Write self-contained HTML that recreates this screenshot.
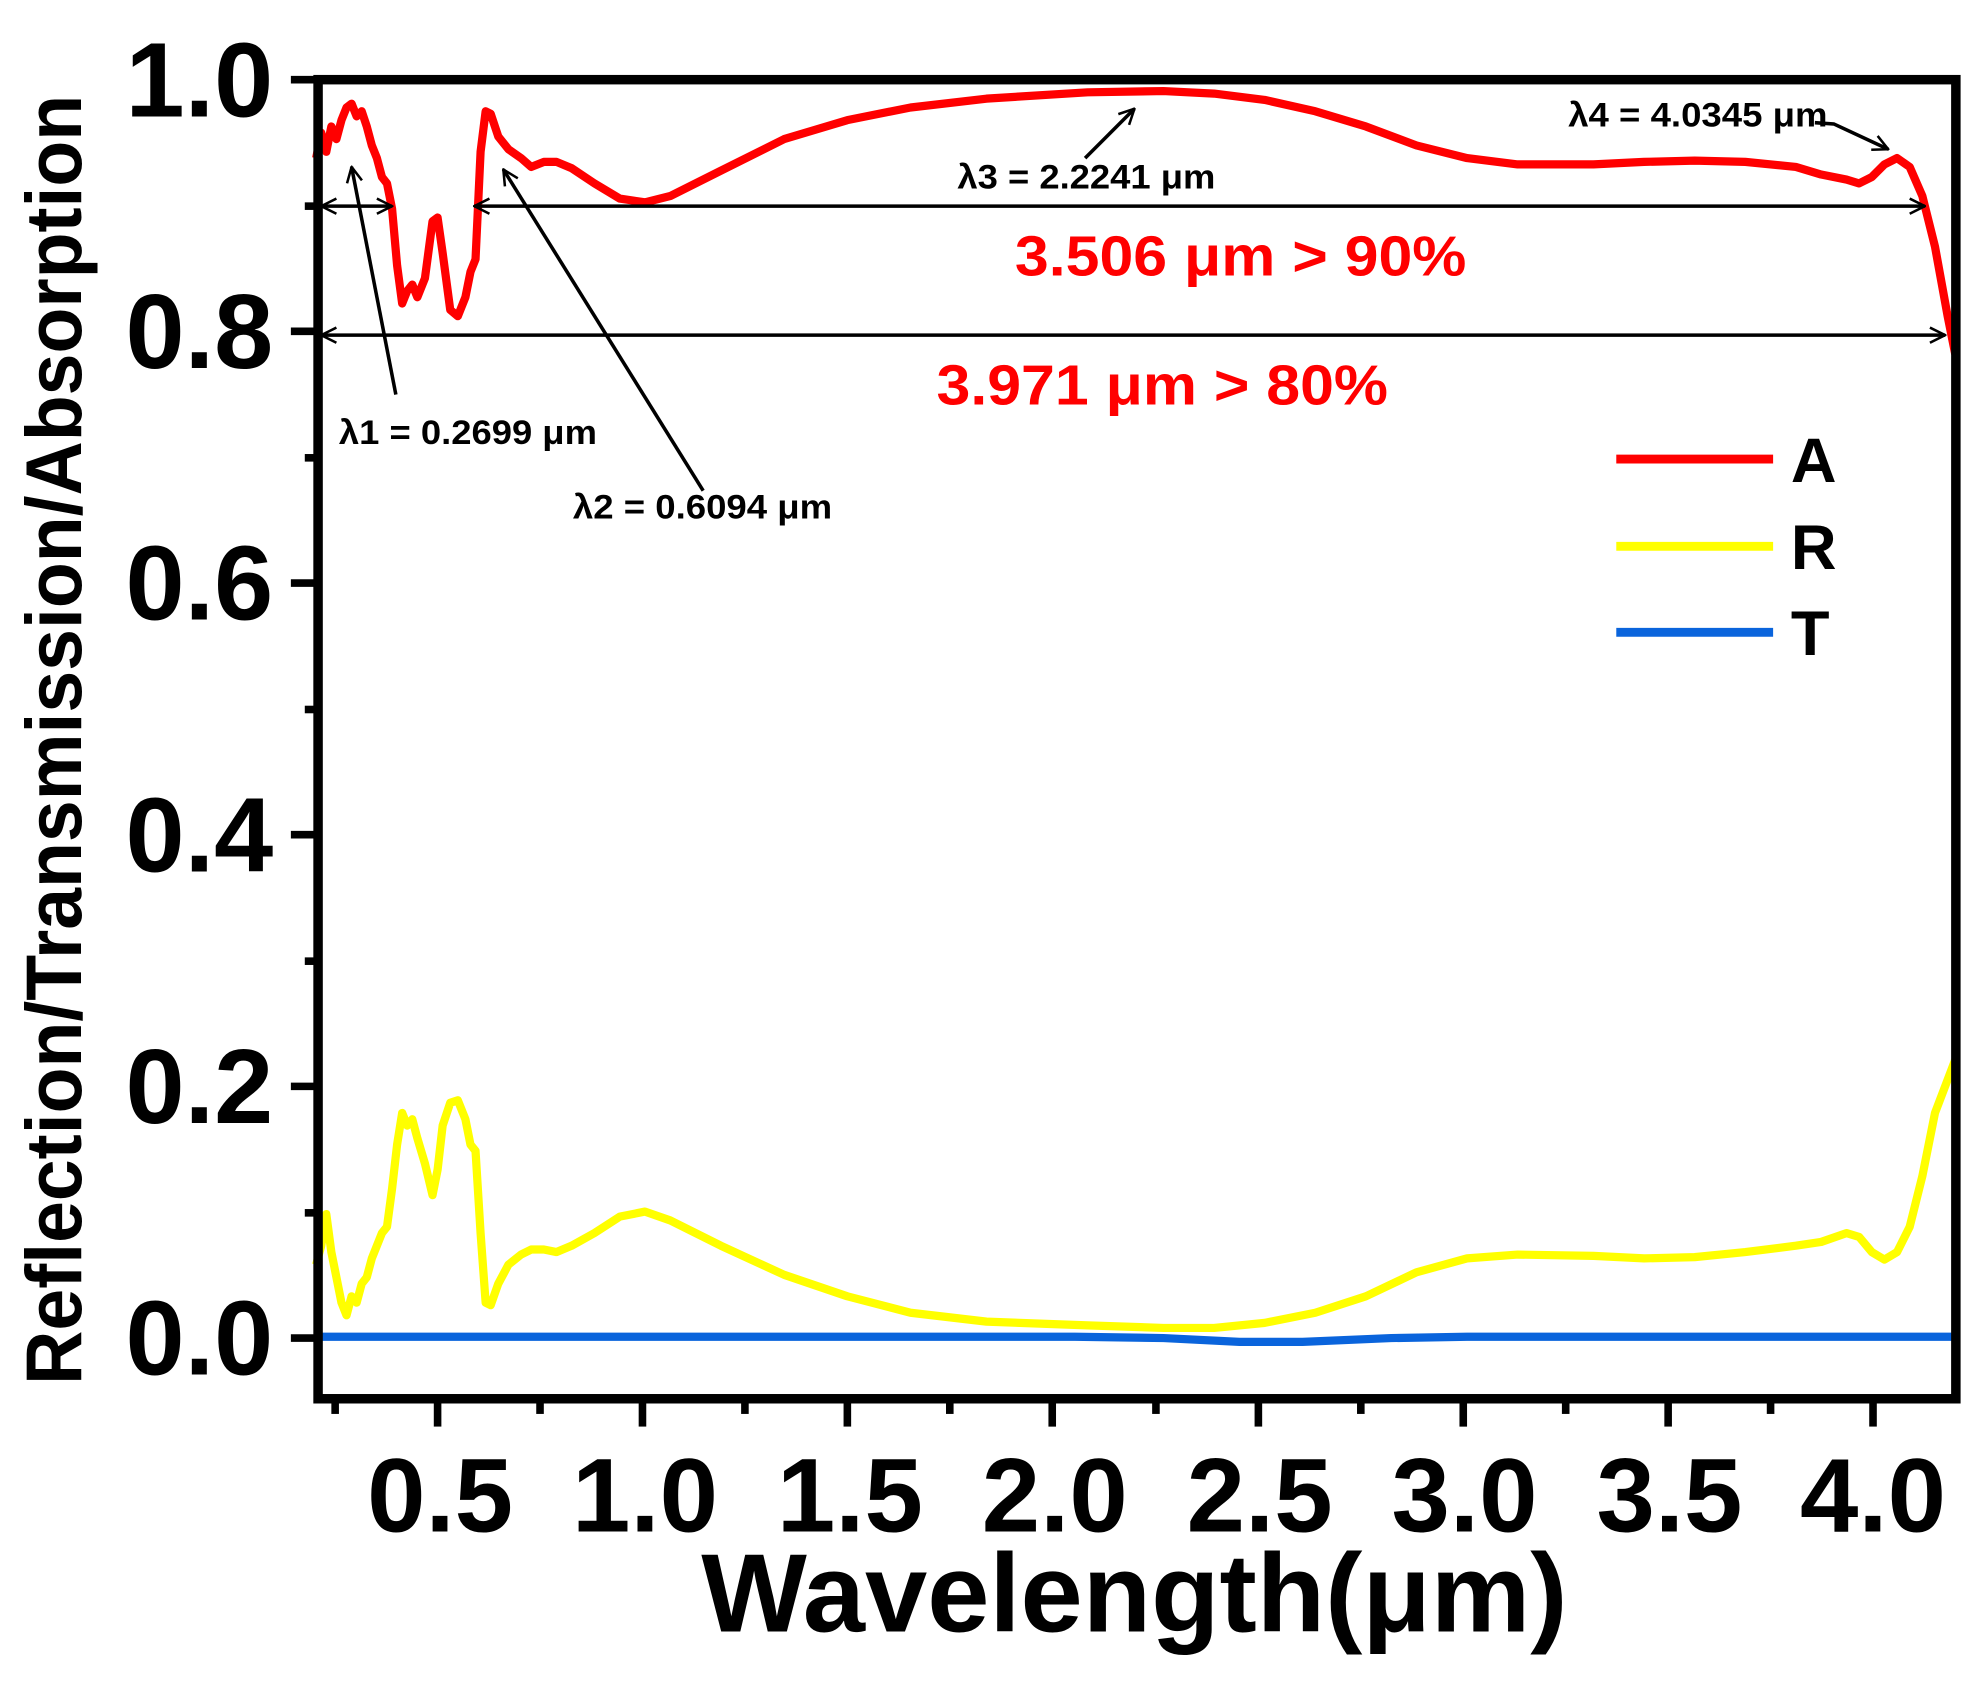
<!DOCTYPE html>
<html><head><meta charset="utf-8"><style>
html,body{margin:0;padding:0;background:#fff;}
svg{display:block;}
text{font-family:"Liberation Sans",Arial,sans-serif;font-weight:bold;}
</style></head><body>
<svg width="1983" height="1689" viewBox="0 0 1983 1689" xmlns="http://www.w3.org/2000/svg">
<rect width="1983" height="1689" fill="#fff"/>
<g transform="scale(1.2647)">
<defs>
<marker id="ah" viewBox="0 0 14 14" refX="13" refY="7" markerWidth="14" markerHeight="14" markerUnits="userSpaceOnUse" orient="auto-start-reverse">
<path d="M1,1 L13,7 L1,13" fill="none" stroke="#000" stroke-width="2"/>
</marker>
</defs>
<polyline fill="none" stroke="#ffff00" stroke-width="6.5" stroke-linejoin="round" points="250,1000 254,985 258,960 262,990 266,1010 270,1030 274,1040 278,1025 282,1030 286,1015 290,1010 294,995 298,985 302,975 306,970 310,940 314,905 318,880 322,890 326,885 330,900 336,920 342,945 346,925 350,890 356,872 362,870 368,885 372,905 376,910 380,975 384,1030 388,1032 394,1015 402,1000 412,992 420,988 430,988 440,990 452,985 470,975 490,962 510,958 530,965 570,985 620,1008 670,1025 720,1038 780,1045 860,1048 920,1050 960,1050 1000,1046 1040,1038 1080,1025 1120,1006 1160,995 1200,992 1260,993 1300,995 1340,994 1380,990 1420,985 1440,982 1460,975 1470,978 1480,990 1490,996 1500,990 1510,970 1520,930 1530,880 1546,838"/>
<polyline fill="none" stroke="#0a64dc" stroke-width="6.5" points="252,1057 850,1057 920,1058 980,1061 1030,1061 1100,1058 1160,1057 1546,1057"/>
<polyline fill="none" stroke="#ff0000" stroke-width="6.5" stroke-linejoin="round" points="250,125 254,105 258,120 262,100 266,110 270,95 274,85 278,82 282,92 286,88 290,100 294,115 298,125 302,140 306,145 310,165 314,210 318,240 322,230 326,225 330,235 336,220 342,175 346,172 350,200 356,245 362,250 368,235 372,215 376,205 380,120 384,88 388,90 394,108 402,118 412,125 420,132 430,128 440,128 452,133 470,145 490,157 510,160 530,155 570,135 620,110 670,95 720,85 780,78 860,73 920,72 960,74 1000,79 1040,88 1080,100 1120,115 1160,125 1200,130 1260,130 1300,128 1340,127 1380,128 1420,132 1440,138 1460,142 1470,145 1480,140 1490,130 1500,125 1510,132 1520,155 1530,195 1540,250 1546,280"/>
<rect x="251.5" y="63" width="1295" height="1043" fill="none" stroke="#000" stroke-width="7.5"/>
<g stroke="#000" stroke-width="6">
<line x1="230" y1="63" x2="251" y2="63"/><line x1="230" y1="262" x2="251" y2="262"/><line x1="230" y1="461" x2="251" y2="461"/>
<line x1="230" y1="660" x2="251" y2="660"/><line x1="230" y1="859" x2="251" y2="859"/><line x1="230" y1="1058" x2="251" y2="1058"/>
<line x1="241" y1="163" x2="251" y2="163"/><line x1="241" y1="362" x2="251" y2="362"/><line x1="241" y1="561" x2="251" y2="561"/>
<line x1="241" y1="760" x2="251" y2="760"/><line x1="241" y1="959" x2="251" y2="959"/>
</g>
<g stroke="#000" stroke-width="6">
<line x1="346" y1="1108" x2="346" y2="1128"/><line x1="508" y1="1108" x2="508" y2="1128"/><line x1="670" y1="1108" x2="670" y2="1128"/>
<line x1="832" y1="1108" x2="832" y2="1128"/><line x1="995" y1="1108" x2="995" y2="1128"/><line x1="1157" y1="1108" x2="1157" y2="1128"/>
<line x1="1319" y1="1108" x2="1319" y2="1128"/><line x1="1481" y1="1108" x2="1481" y2="1128"/>
<line x1="265" y1="1108" x2="265" y2="1118"/><line x1="427" y1="1108" x2="427" y2="1118"/><line x1="589" y1="1108" x2="589" y2="1118"/>
<line x1="751" y1="1108" x2="751" y2="1118"/><line x1="914" y1="1108" x2="914" y2="1118"/><line x1="1076" y1="1108" x2="1076" y2="1118"/>
<line x1="1238" y1="1108" x2="1238" y2="1118"/><line x1="1400" y1="1108" x2="1400" y2="1118"/>
</g>
<g font-size="84" text-anchor="end">
<text x="216" y="92">1.0</text><text x="216" y="291">0.8</text><text x="216" y="490">0.6</text>
<text x="216" y="689">0.4</text><text x="216" y="888">0.2</text><text x="216" y="1087">0.0</text>
</g>
<g font-size="83" text-anchor="middle">
<text x="348" y="1211">0.5</text><text x="510" y="1211">1.0</text><text x="672" y="1211">1.5</text>
<text x="834" y="1211">2.0</text><text x="996" y="1211">2.5</text><text x="1158" y="1211">3.0</text>
<text x="1320" y="1211">3.5</text><text x="1481" y="1211">4.0</text>
</g>
<text x="897" y="1290" font-size="88" text-anchor="middle" textLength="685" lengthAdjust="spacingAndGlyphs">Wavelength(μm)</text>
<text transform="translate(64,585) rotate(-90)" font-size="62" text-anchor="middle" textLength="1020" lengthAdjust="spacingAndGlyphs">Reflection/Transmission/Absorption</text>
<g stroke="#000" stroke-width="2.8" fill="none">
<line x1="254" y1="163" x2="310" y2="163" marker-start="url(#ah)" marker-end="url(#ah)"/>
<line x1="375" y1="163" x2="1522" y2="163" marker-start="url(#ah)" marker-end="url(#ah)"/>
<line x1="254" y1="265" x2="1538" y2="265" marker-start="url(#ah)" marker-end="url(#ah)"/>
<line x1="313" y1="312" x2="278" y2="132" marker-end="url(#ah)"/>
<line x1="556" y1="388" x2="398" y2="134" marker-end="url(#ah)"/>
<line x1="858" y1="125" x2="897" y2="86" marker-end="url(#ah)"/>
<polyline points="1435,97 1450,98 1493,118" marker-end="url(#ah)"/>
</g>
<g font-size="27" fill="#000">
<text x="268" y="351" textLength="204" lengthAdjust="spacingAndGlyphs">λ1 = 0.2699 μm</text>
<text x="453" y="410" textLength="205" lengthAdjust="spacingAndGlyphs">λ2 = 0.6094 μm</text>
<text x="757" y="149" textLength="204" lengthAdjust="spacingAndGlyphs">λ3 = 2.2241 μm</text>
<text x="1240" y="100" textLength="205" lengthAdjust="spacingAndGlyphs">λ4 = 4.0345 μm</text>
</g>
<g font-size="45" fill="#ff0000" text-anchor="middle">
<text x="981" y="218" textLength="357" lengthAdjust="spacingAndGlyphs">3.506 μm &gt; 90%</text>
<text x="919" y="320" textLength="357" lengthAdjust="spacingAndGlyphs">3.971 μm &gt; 80%</text>
</g>
<g stroke-width="7">
<line x1="1278" y1="363" x2="1402" y2="363" stroke="#ff0000"/>
<line x1="1278" y1="432" x2="1402" y2="432" stroke="#ffff00"/>
<line x1="1278" y1="500" x2="1402" y2="500" stroke="#0a64dc"/>
</g>
<g font-size="50">
<text x="1416" y="381">A</text><text x="1416" y="450">R</text><text x="1416" y="518">T</text>
</g>
</g>
</svg>
</body></html>
